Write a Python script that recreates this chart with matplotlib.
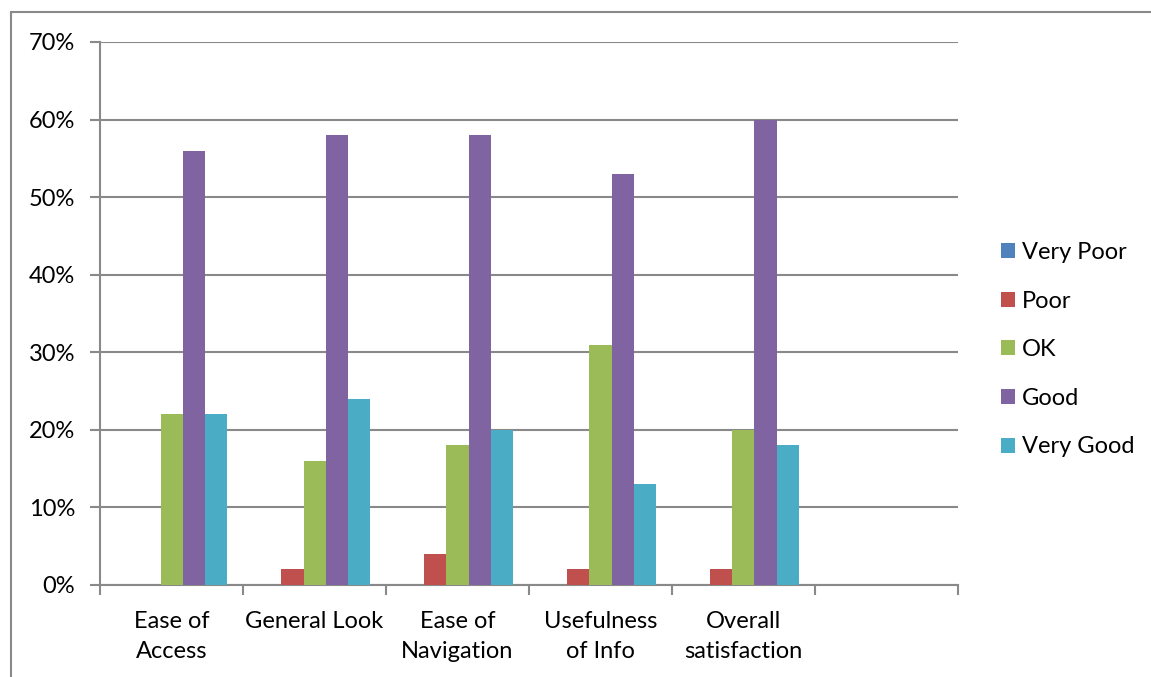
import numpy as np
import matplotlib.pyplot as plt
from matplotlib.patches import Rectangle
from matplotlib.ticker import FuncFormatter, MultipleLocator

plt.rcParams['font.family'] = ['Lato', 'DejaVu Sans']

# Survey results, share of responses per rating
categories = ['Ease of\nAccess', 'General Look', 'Ease of\nNavigation',
              'Usefulness\nof Info', 'Overall\nsatisfaction', '']
ratings = ['Very Poor', 'Poor', 'OK', 'Good', 'Very Good']
very_poor = [0, 0, 0, 0, 0, None]
poor = [0, 2, 4, 2, 2, None]
ok = [22, 16, 18, 31, 20, None]
good = [56, 58, 58, 53, 60, None]
very_good = [22, 24, 20, 13, 18, None]
series = [very_poor, poor, ok, good, very_good]
colors = ['#4F81BD', '#C0504D', '#9BBB59', '#8064A2', '#4BACC6']

grey = '#898989'
fs = 17

fig = plt.figure(figsize=(11.51, 6.77), dpi=100)
ax = fig.add_axes([0.0869, 0.1359, 0.7454, 0.8021])

# outer chart frame (runs off the right and bottom edges)
fig.patches.append(Rectangle((11 / 1151, -0.05), 1.2, 0.05 + (1 - 12 / 677),
                             transform=fig.transFigure, fill=False,
                             edgecolor=grey, linewidth=1.5, zorder=0))

x = np.arange(len(categories))
width = 0.154
for i, (vals, name, c) in enumerate(zip(series, ratings, colors)):
    v = np.array([np.nan if a is None else a for a in vals], dtype=float)
    ax.bar(x + (i - 2) * width, v, width, color=c, label=name, zorder=3)

ax.set_xlim(-0.5, len(categories) - 0.5)
ax.set_ylim(0, 70)
ax.yaxis.set_major_locator(MultipleLocator(10))
ax.yaxis.set_major_formatter(FuncFormatter(lambda v, p: f'{v:.0f}%'))
ax.grid(axis='y', color=grey, linewidth=1.5, zorder=0)

ax.set_xticks(x)
ax.set_xticklabels(categories, fontsize=fs, linespacing=1.5)
ax.set_xticks(np.arange(-0.5, len(categories)), minor=True)
ax.tick_params(axis='x', which='major', length=0, pad=19)
ax.tick_params(axis='x', which='minor', length=7, width=1.5, color=grey)
ax.tick_params(axis='y', length=7, width=1.5, color=grey, labelsize=fs, pad=11)

for s in ['top', 'right']:
    ax.spines[s].set_visible(False)
for s in ['left', 'bottom']:
    ax.spines[s].set_color(grey)
    ax.spines[s].set_linewidth(1.5)

ax.legend(loc='center left', bbox_to_anchor=(0.851, 0.4835),
          bbox_transform=fig.transFigure, frameon=False, fontsize=fs,
          handlelength=0.6, handleheight=0.6, handletextpad=0.3,
          labelspacing=1.17)

plt.savefig('out.png')
